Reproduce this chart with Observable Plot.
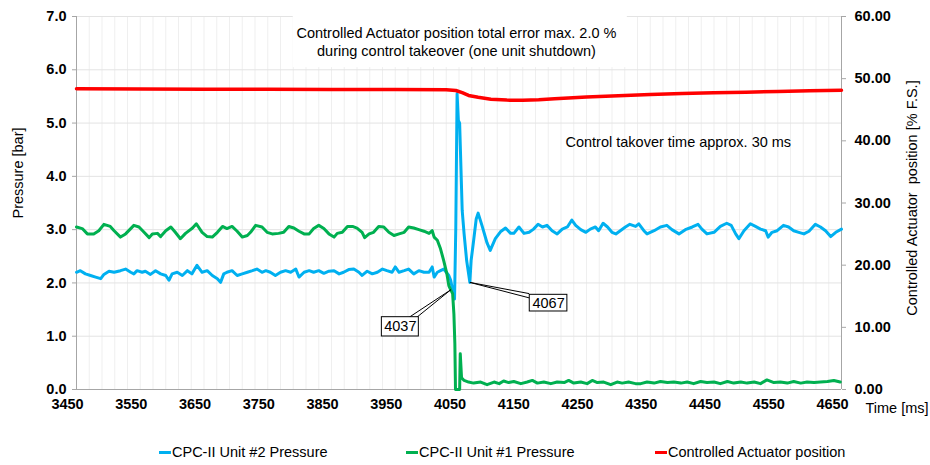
<!DOCTYPE html>
<html>
<head>
<meta charset="utf-8">
<script src="https://cdn.jsdelivr.net/npm/d3@7"></script>
<script src="https://cdn.jsdelivr.net/npm/@observablehq/plot@0.6"></script>
<style>
  html, body { margin: 0; padding: 0; background: #fff; }
  #wrap { position: relative; width: 930px; height: 465px; font-family: Arial, "Liberation Sans", sans-serif; }
  .leg { position: absolute; top: 444px; font-size: 14.5px; color: #000; white-space: nowrap; display: flex; align-items: center; }
  .leg span.sw { display: inline-block; width: 12px; height: 3px; margin-right: 1px; }
</style>
</head>
<body>
<div id="wrap"></div>
<script>
// ---- Data (time in ms, pressure in bar, actuator position in % F.S.) ----
const seriesNames = ["CPC-II Unit #2 Pressure", "CPC-II Unit #1 Pressure", "Controlled Actuator position"];
const seriesColors = ["#00b0f0", "#00b050", "#ff0000"];

const unit2Pressure = [
  [3450,2.20],[3456,2.23],[3464,2.17],[3472,2.14],[3480,2.11],[3488,2.08],[3493,2.16],[3501,2.22],[3509,2.20],[3519,2.23],
  [3527,2.26],[3535,2.20],[3540,2.17],[3545,2.23],[3553,2.20],[3558,2.22],[3566,2.16],[3574,2.23],[3582,2.17],[3590,2.14],
  [3595,2.05],[3600,2.17],[3608,2.20],[3616,2.14],[3624,2.23],[3631,2.17],[3639,2.33],[3647,2.20],[3655,2.23],[3663,2.14],
  [3671,2.08],[3676,2.01],[3681,2.17],[3686,2.20],[3694,2.23],[3702,2.14],[3710,2.17],[3718,2.20],[3726,2.23],[3733,2.26],
  [3741,2.20],[3747,2.23],[3754,2.20],[3762,2.14],[3770,2.20],[3778,2.23],[3786,2.20],[3794,2.26],[3799,2.11],[3807,2.20],
  [3815,2.23],[3822,2.20],[3830,2.23],[3838,2.18],[3846,2.22],[3854,2.23],[3862,2.17],[3869,2.20],[3877,2.25],[3885,2.26],
  [3893,2.20],[3898,2.14],[3906,2.22],[3914,2.17],[3922,2.20],[3930,2.26],[3937,2.23],[3945,2.20],[3950,2.30],[3956,2.20],
  [3964,2.23],[3971,2.26],[3979,2.17],[3987,2.23],[3995,2.20],[4003,2.20],[4008,2.30],[4011,2.11],[4016,2.20],[4021,2.23],
  [4026,2.26],[4030,2.20],[4034,2.14],[4037,2.05],[4040,1.86],[4043,1.70],[4045,3.05],[4047,5.55],[4049,5.05],[4051,5.00],
  [4055,3.36],[4058,2.92],[4062,2.42],[4067,2.01],[4069,2.42],[4073,2.80],[4077,3.20],[4080,3.31],[4086,3.08],[4094,2.75],
  [4099,2.61],[4107,2.83],[4115,2.96],[4123,3.03],[4131,2.93],[4136,2.93],[4144,3.05],[4152,2.93],[4160,2.95],[4167,3.01],
  [4174,3.10],[4181,3.05],[4188,3.08],[4196,2.98],[4204,2.92],[4212,3.01],[4220,3.05],[4227,3.18],[4233,3.08],[4241,3.00],
  [4249,2.95],[4256,3.01],[4264,3.05],[4269,2.98],[4276,3.12],[4283,3.05],[4290,2.95],[4296,2.92],[4303,2.98],[4311,3.05],
  [4318,3.10],[4327,3.06],[4332,3.11],[4340,2.98],[4345,2.92],[4356,2.98],[4366,3.05],[4376,3.08],[4384,3.00],[4395,2.92],
  [4405,3.00],[4416,3.05],[4425,3.10],[4431,3.01],[4439,2.92],[4450,2.95],[4460,3.06],[4470,3.12],[4477,3.08],[4484,2.92],
  [4489,2.83],[4497,2.98],[4507,3.11],[4515,3.06],[4523,3.01],[4531,2.98],[4535,2.86],[4541,2.95],[4549,2.98],[4559,3.08],
  [4567,3.05],[4575,2.98],[4583,2.95],[4591,2.92],[4599,2.97],[4609,3.10],[4617,3.05],[4625,2.98],[4633,2.87],[4641,2.95],
  [4650,3.01]
];

const unit1Pressure = [
  [3450,3.05],[3459,3.02],[3467,2.92],[3477,2.92],[3485,2.98],[3493,3.10],[3503,3.06],[3509,2.98],[3519,2.86],[3527,2.92],
  [3540,3.08],[3548,3.05],[3556,2.95],[3564,2.85],[3569,2.92],[3577,2.93],[3582,2.87],[3590,2.98],[3598,3.05],[3605,2.95],
  [3613,2.83],[3621,2.93],[3632,3.03],[3638,3.11],[3647,2.95],[3655,2.87],[3663,2.86],[3671,2.95],[3679,3.06],[3686,3.02],
  [3694,3.06],[3702,2.97],[3710,2.86],[3718,2.89],[3723,2.95],[3731,3.08],[3741,3.05],[3749,2.95],[3757,2.92],[3767,2.93],
  [3775,2.95],[3783,3.06],[3791,3.03],[3799,2.97],[3807,2.92],[3815,2.92],[3822,3.02],[3830,3.08],[3838,3.02],[3846,2.92],
  [3854,2.86],[3859,2.93],[3867,2.95],[3875,3.06],[3883,3.06],[3890,3.03],[3898,2.95],[3902,2.85],[3909,2.92],[3916,2.95],
  [3924,3.06],[3932,3.05],[3940,2.95],[3948,2.89],[3956,2.92],[3964,2.95],[3971,3.05],[3979,3.03],[3987,3.00],[3995,2.97],
  [4003,2.93],[4008,2.98],[4011,2.86],[4016,2.80],[4021,2.64],[4026,2.42],[4031,2.17],[4034,1.95],[4037,1.87],[4040,1.80],
  [4042,1.42],[4043.5,0.86],[4044.5,0.00],[4051,0.00],[4052,0.67],[4054,0.22],[4058,0.17],[4065,0.14],[4073,0.12],[4084,0.14],
  [4094,0.09],[4105,0.14],[4113,0.11],[4120,0.16],[4128,0.13],[4136,0.15],[4147,0.11],[4157,0.14],[4165,0.17],[4173,0.12],
  [4183,0.14],[4194,0.11],[4204,0.14],[4215,0.13],[4222,0.17],[4230,0.12],[4241,0.14],[4251,0.11],[4259,0.17],[4267,0.13],
  [4277,0.14],[4288,0.09],[4298,0.14],[4306,0.12],[4316,0.14],[4327,0.11],[4335,0.11],[4345,0.14],[4356,0.12],[4366,0.15],
  [4377,0.13],[4387,0.14],[4398,0.12],[4408,0.14],[4418,0.11],[4429,0.15],[4439,0.13],[4450,0.14],[4460,0.11],[4471,0.15],
  [4481,0.12],[4492,0.14],[4502,0.12],[4513,0.14],[4523,0.11],[4533,0.18],[4544,0.13],[4554,0.14],[4565,0.12],[4575,0.15],
  [4586,0.12],[4596,0.14],[4607,0.13],[4617,0.14],[4628,0.15],[4638,0.17],[4648,0.14]
];

const actuatorPosition = [
  [3450,48.37],[3550,48.35],[3650,48.30],[3750,48.30],[3850,48.27],[3950,48.25],[4030,48.22],[4045,48.10],[4055,47.75],
  [4065,47.30],[4080,47.00],[4100,46.70],[4125,46.55],[4150,46.52],[4175,46.60],[4200,46.75],[4250,47.05],[4300,47.25],
  [4350,47.45],[4400,47.60],[4450,47.72],[4500,47.82],[4550,47.95],[4600,48.05],[4650,48.15]
];

// ---- Axes / ticks ----
const timeTicks = [3450,3550,3650,3750,3850,3950,4050,4150,4250,4350,4450,4550,4650];
const timeGrid = d3.range(3450, 4651, 20);
const pressureTicks = [0,1,2,3,4,5,6,7];
const positionTicks = [0,10,20,30,40,50,60];
const pressureMax = 7, positionMax = 60;

// ---- Annotations ----
const headNote = ["Controlled Actuator position total error max. 2.0 %\nduring control takeover (one unit shutdown)"];
const headNoteAt = {x: 4046, y: 6.54};
const headBox = [{x1: 3790, x2: 4314, y1: 6.04, y2: 7.0}];
const sideNote = ["Control takover time approx. 30 ms"];
const sideNoteAt = {x: 4217, y: 4.635};
const callouts = [
  {label: "4037", tx: 4037, ty: 1.87, bx1: 3929, bx2: 3987, by1: 0.995, by2: 1.357, wx: [3972, 3984], wy: [1.357, 1.357]},
  {label: "4067", tx: 4067, ty: 2.01, bx1: 4161, bx2: 4220, by1: 1.464, by2: 1.777, wx: [4160, 4160], wy: [1.80, 1.72]}
];

const toY = p => p * pressureMax / positionMax;
const font = "Arial, 'Liberation Sans', sans-serif";

const wedges = callouts.flatMap(c => c.wx.map((wx, i) => ({x1: c.tx, y1: c.ty, x2: wx, y2: c.wy[i]})));

const chart = Plot.plot({
  width: 930,
  height: 430,
  marginLeft: 76,
  marginRight: 89,
  marginTop: 16,
  marginBottom: 41,
  style: {fontFamily: font, fontSize: "14.5px", background: "white", overflow: "visible"},
  x: {domain: [3450, 4650]},
  y: {domain: [0, pressureMax]},
  marks: [
    Plot.gridX(timeGrid, {stroke: "#efefef", strokeOpacity: 1}),
    Plot.gridY(pressureTicks, {stroke: "#e3e3e3", strokeOpacity: 1}),
    Plot.rect(headBox, {x1: "x1", x2: "x2", y1: "y1", y2: "y2", fill: "white"}),
    Plot.ruleX([3450, 4650], {stroke: "#a6a6a6"}),
    Plot.ruleY([0], {stroke: "#a6a6a6"}),
    Plot.axisX(timeTicks, {tickSize: 0, tickPadding: 9, dx: -9, fontWeight: "bold", fontSize: 14.5, label: null, tickFormat: d => String(d)}),
    Plot.axisY(pressureTicks, {anchor: "left", tickSize: 4, tickPadding: 6, fontWeight: "bold", fontSize: 14.5, label: null, stroke: "#a6a6a6", tickFormat: d => d.toFixed(1)}),
    Plot.axisY(positionTicks.map(toY), {anchor: "right", tickSize: 4, tickPadding: 9, fontWeight: "bold", fontSize: 14.5, label: null, stroke: "#a6a6a6", tickFormat: d => (d * positionMax / pressureMax).toFixed(2)}),
    Plot.text(["Pressure [bar]"], {frameAnchor: "left", textAnchor: "middle", rotate: -90, dx: -58, dy: -30, fontSize: 14.5}),
    Plot.text(["Controlled Actuator  position [% F.S.]"], {frameAnchor: "right", textAnchor: "middle", rotate: -90, dx: 71, dy: -5, fontSize: 14.5}),
    Plot.text(["Time [ms]"], {frameAnchor: "bottom-right", textAnchor: "start", dx: 24, dy: 23, fontSize: 14.5}),
    Plot.lineY(unit2Pressure, {x: d => d[0], y: d => d[1], stroke: seriesColors[0], strokeWidth: 3}),
    Plot.lineY(unit1Pressure, {x: d => d[0], y: d => d[1], stroke: seriesColors[1], strokeWidth: 3}),
    Plot.lineY(actuatorPosition, {x: d => d[0], y: d => toY(d[1]), stroke: seriesColors[2], strokeWidth: 3.5}),
    Plot.text(headNote, {x: () => headNoteAt.x, y: () => headNoteAt.y, lineHeight: 1.3, fontSize: 14.5, fill: "black"}),
    Plot.text(sideNote, {x: () => sideNoteAt.x, y: () => sideNoteAt.y, textAnchor: "start", fontSize: 14.5, fill: "black"}),
    Plot.link(wedges, {x1: "x1", y1: "y1", x2: "x2", y2: "y2", stroke: "black", strokeWidth: 1}),
    Plot.rect(callouts, {x1: "bx1", x2: "bx2", y1: "by1", y2: "by2", fill: "white", stroke: "black", strokeWidth: 1}),
    Plot.text(callouts, {x: d => (d.bx1 + d.bx2) / 2, y: d => (d.by1 + d.by2) / 2, text: "label", fontSize: 14.5, fill: "black"})
  ]
});

const wrap = document.getElementById("wrap");
wrap.appendChild(chart);

const legendLeft = [159, 406, 655];
seriesNames.forEach((name, i) => {
  const item = document.createElement("div");
  item.className = "leg";
  item.style.left = legendLeft[i] + "px";
  item.innerHTML = `<span class="sw" style="background:${seriesColors[i]}"></span>${name}`;
  wrap.appendChild(item);
});
</script>
</body>
</html>
